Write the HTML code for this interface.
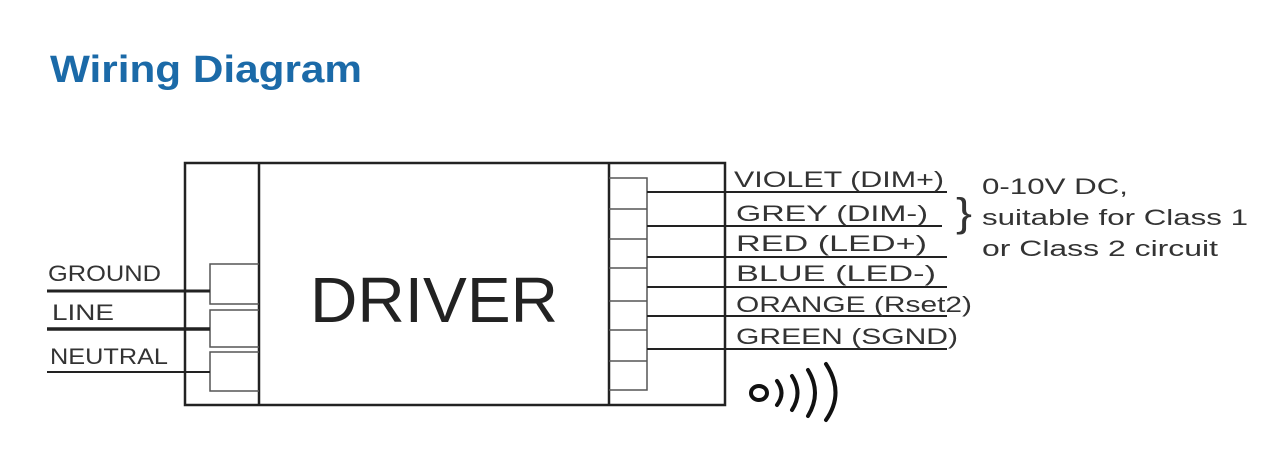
<!DOCTYPE html>
<html><head><meta charset="utf-8"><style>html,body{margin:0;padding:0;background:#fff;}svg{display:block}</style></head>
<body>
<svg width="1280" height="465" viewBox="0 0 1280 465" xmlns="http://www.w3.org/2000/svg" font-family="Liberation Sans, Arial, sans-serif">
<text x="50" y="82" font-size="38" font-weight="bold" fill="#1b6aa8" textLength="312" lengthAdjust="spacingAndGlyphs">Wiring Diagram</text>
<g stroke="#222" fill="none">
<rect x="185" y="163" width="540" height="242" stroke-width="2.5"/>
<line x1="259" y1="163" x2="259" y2="405" stroke-width="2.5"/>
<line x1="609" y1="163" x2="609" y2="405" stroke-width="2.5"/>
<g stroke="#555" stroke-width="1.5">
<polyline points="259,264 210,264 210,304 259,304"/>
<polyline points="259,310 210,310 210,347 259,347"/>
<polyline points="259,352 210,352 210,391 259,391"/>
</g>
<line x1="47" y1="291" x2="210" y2="291" stroke-width="3"/>
<line x1="47" y1="329" x2="210" y2="329" stroke-width="3.5"/>
<line x1="47" y1="372" x2="210" y2="372" stroke-width="2"/>
<g stroke="#555" stroke-width="1.5">
<polyline points="609,178 647,178 647,390 609,390"/>
<line x1="609" y1="209" x2="647" y2="209"/>
<line x1="609" y1="239" x2="647" y2="239"/>
<line x1="609" y1="268" x2="647" y2="268"/>
<line x1="609" y1="301" x2="647" y2="301"/>
<line x1="609" y1="330" x2="647" y2="330"/>
<line x1="609" y1="361" x2="647" y2="361"/>
</g>
<g stroke-width="2">
<line x1="647" y1="192" x2="947" y2="192"/>
<line x1="647" y1="226" x2="942" y2="226"/>
<line x1="647" y1="257" x2="947" y2="257"/>
<line x1="647" y1="287" x2="947" y2="287"/>
<line x1="647" y1="316" x2="947" y2="316"/>
<line x1="647" y1="349" x2="947" y2="349"/>
</g>
</g>
<g fill="#333" font-size="22">
<text x="48" y="281" textLength="113" lengthAdjust="spacingAndGlyphs">GROUND</text>
<text x="52" y="320" textLength="62" lengthAdjust="spacingAndGlyphs">LINE</text>
<text x="50" y="364" textLength="118" lengthAdjust="spacingAndGlyphs">NEUTRAL</text>
<text x="734" y="187" textLength="210" lengthAdjust="spacingAndGlyphs">VIOLET (DIM+)</text>
<text x="736" y="221" textLength="192" lengthAdjust="spacingAndGlyphs">GREY (DIM-)</text>
<text x="736" y="251" textLength="191" lengthAdjust="spacingAndGlyphs">RED (LED+)</text>
<text x="736" y="281" textLength="200" lengthAdjust="spacingAndGlyphs">BLUE (LED-)</text>
<text x="736" y="312" textLength="236" lengthAdjust="spacingAndGlyphs">ORANGE (Rset2)</text>
<text x="736" y="344" textLength="222" lengthAdjust="spacingAndGlyphs">GREEN (SGND)</text>
<text x="956" y="226" font-size="40" textLength="16" lengthAdjust="spacingAndGlyphs">}</text>
<text x="982" y="194" textLength="146" lengthAdjust="spacingAndGlyphs">0-10V DC,</text>
<text x="982" y="225" textLength="266" lengthAdjust="spacingAndGlyphs">suitable for Class 1</text>
<text x="982" y="256" textLength="236" lengthAdjust="spacingAndGlyphs">or Class 2 circuit</text>
</g>
<text x="310" y="322" font-size="64" fill="#222" textLength="248" lengthAdjust="spacingAndGlyphs">DRIVER</text>
<g stroke="#111" fill="none" stroke-width="4" stroke-linecap="round">
<ellipse cx="759" cy="393" rx="8" ry="7"/>
<path d="M777,381 Q786,393 777,405"/>
<path d="M792,376 Q803,393 792,410"/>
<path d="M808,370 Q822,393 808,416"/>
<path d="M826,364 Q845,393 826,420"/>
</g>
</svg>
</body></html>
